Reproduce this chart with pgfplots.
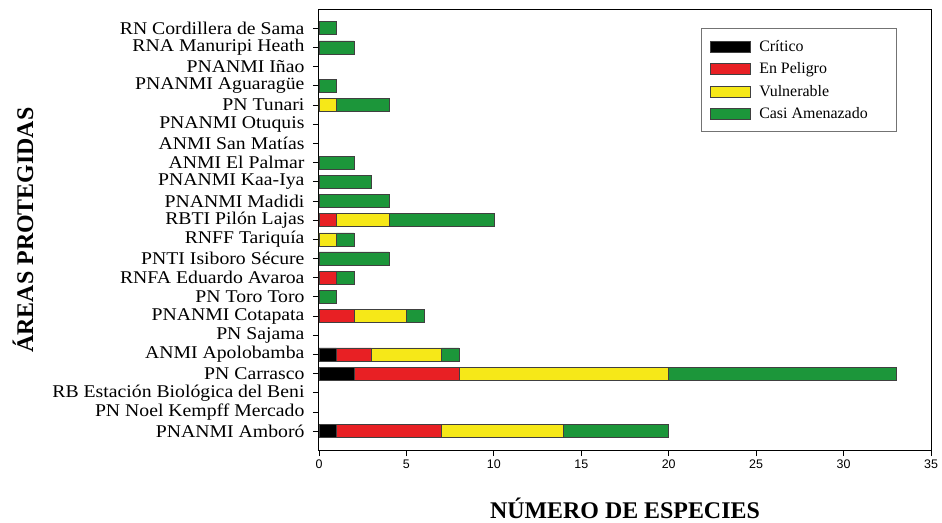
\documentclass[border=0pt]{standalone}
\usepackage{fontspec}
\setmainfont{Liberation Serif}
\setsansfont{Liberation Sans}
\usepackage{pgfplots}
\usepackage{pgfplotstable}
\pgfplotsset{compat=1.18}

\definecolor{critico}{RGB}{0,0,0}
\definecolor{peligro}{RGB}{232,32,36}
\definecolor{vulnerable}{RGB}{246,232,24}
\definecolor{casi}{RGB}{28,150,58}

% columnas: critico, en peligro, vulnerable, casi amenazado
\pgfplotstableread{
idx cr ep vu ca
0  1 6 7  6
1  0 0 0  0
2  0 0 0  0
3  2 6 12 13
4  1 2 4  1
5  0 0 0  0
6  0 2 3  1
7  0 0 0  1
8  0 1 0  1
9  0 0 0  4
10 0 0 1  1
11 0 1 3  6
12 0 0 0  4
13 0 0 0  3
14 0 0 0  2
15 0 0 0  0
16 0 0 0  0
17 0 0 1  3
18 0 0 0  1
19 0 0 0  0
20 0 0 0  2
21 0 0 0  1
}\datos

\begin{document}
\begin{tikzpicture}
\path[use as bounding box] (-319bp,-73bp) rectangle (623bp,450bp);
\begin{axis}[
    at={(0,0)}, anchor=south west,
    scale only axis,
    width=612bp, height=440bp,
    xbar stacked,
    bar width=13bp,
    xmin=0, xmax=35,
    ymin=-0.98, ymax=21.95,
    xtick={0,5,...,35},
    ytick={0,...,21},
    yticklabels={PNANMI Amboró, PN Noel Kempff Mercado, RB Estación Biológica del Beni,
        PN Carrasco, ANMI Apolobamba, PN Sajama, PNANMI Cotapata, PN Toro Toro,
        RNFA Eduardo Avaroa, PNTI Isiboro Sécure, RNFF Tariquía, RBTI Pilón Lajas,
        PNANMI Madidi, PNANMI Kaa-Iya, ANMI El Palmar, ANMI San Matías,
        PNANMI Otuquis, PN Tunari, PNANMI Aguaragüe, PNANMI Iñao,
        RNA Manuripi Heath, RN Cordillera de Sama},
    xtick pos=bottom, ytick pos=left,
    tick align=outside,
    major tick length=6bp,
    axis line style={line width=1bp},
    every tick/.style={black, line width=0.8bp},
    /pgf/number format/assume math mode=true,
    xticklabel style={font=\fontsize{12.5}{12.5}\selectfont\sffamily},
    yticklabel style={font=\fontsize{18}{18}\selectfont\addfontfeature{FakeStretch=1.1},
        xshift=-5bp},
    xlabel={NÚMERO DE ESPECIES},
    ylabel={ÁREAS PROTEGIDAS},
    xlabel style={at={([yshift=-68bp]axis description cs:0.5,0)}, anchor=base,
        font=\fontsize{24}{24}\selectfont\bfseries},
    ylabel style={at={([xshift=-296bp]axis description cs:0,0.5)}, anchor=center,
        font=\fontsize{24}{24}\selectfont\bfseries},
    every axis plot/.append style={draw=black!75, line width=0.6bp},
    legend cell align=left,
    legend image code/.code={\draw[#1] (0bp,-5.5bp) rectangle (40bp,5.5bp); \path (46bp,0bp);},
    legend style={at={(0.944,0.959)}, anchor=north east,
        draw=black!55, line width=1bp,
        font=\fontsize{16}{17}\selectfont,
        inner xsep=9bp, inner ysep=9bp, row sep=5bp,
        nodes={inner sep=2.5bp}},
]
\addplot[fill=critico] table[x=cr, y=idx] {\datos};
\addplot[fill=peligro] table[x=ep, y=idx] {\datos};
\addplot[fill=vulnerable] table[x=vu, y=idx] {\datos};
\addplot[fill=casi] table[x=ca, y=idx] {\datos};
\legend{Crítico, En Peligro, Vulnerable, Casi Amenazado\kern17bp}
\end{axis}
\end{tikzpicture}
\end{document}
